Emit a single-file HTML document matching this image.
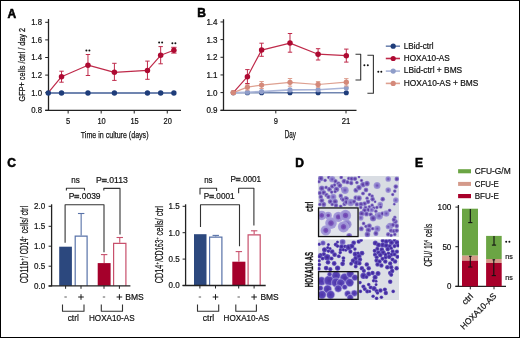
<!DOCTYPE html>
<html><head><meta charset="utf-8"><style>
html,body{margin:0;padding:0;background:#fff;}
.fig{position:relative;width:518px;height:336px;border:1px solid #000;overflow:hidden;background:#fff;}
svg{position:absolute;left:-1px;top:-1px;will-change:transform;filter:blur(0.3px);}
text{font-family:"Liberation Sans", sans-serif;}
</style></head><body><div class="fig">
<svg width="520" height="338" viewBox="0 0 520 338">
<text x="7.5" y="17.6" font-size="12" text-anchor="start" fill="#000" stroke="#000" stroke-width="0.55" font-weight="bold">A</text>
<line x1="48.5" y1="19" x2="48.5" y2="110.8" stroke="#222" stroke-width="1.3"/>
<line x1="45.2" y1="110.3" x2="181" y2="110.3" stroke="#222" stroke-width="1.3"/>
<line x1="45.2" y1="22.299999999999997" x2="48.5" y2="22.299999999999997" stroke="#222" stroke-width="1"/>
<text x="42" y="25.199999999999996" font-size="8.2" text-anchor="end" fill="#111" stroke="#111" stroke-width="0.2" textLength="10.8" lengthAdjust="spacingAndGlyphs">1.8</text>
<line x1="45.2" y1="39.89999999999999" x2="48.5" y2="39.89999999999999" stroke="#222" stroke-width="1"/>
<text x="42" y="42.79999999999999" font-size="8.2" text-anchor="end" fill="#111" stroke="#111" stroke-width="0.2" textLength="10.8" lengthAdjust="spacingAndGlyphs">1.6</text>
<line x1="45.2" y1="57.500000000000014" x2="48.5" y2="57.500000000000014" stroke="#222" stroke-width="1"/>
<text x="42" y="60.40000000000001" font-size="8.2" text-anchor="end" fill="#111" stroke="#111" stroke-width="0.2" textLength="10.8" lengthAdjust="spacingAndGlyphs">1.4</text>
<line x1="45.2" y1="75.10000000000001" x2="48.5" y2="75.10000000000001" stroke="#222" stroke-width="1"/>
<text x="42" y="78.00000000000001" font-size="8.2" text-anchor="end" fill="#111" stroke="#111" stroke-width="0.2" textLength="10.8" lengthAdjust="spacingAndGlyphs">1.2</text>
<line x1="45.2" y1="92.7" x2="48.5" y2="92.7" stroke="#222" stroke-width="1"/>
<text x="42" y="95.60000000000001" font-size="8.2" text-anchor="end" fill="#111" stroke="#111" stroke-width="0.2" textLength="10.8" lengthAdjust="spacingAndGlyphs">1.0</text>
<line x1="45.2" y1="110.3" x2="48.5" y2="110.3" stroke="#222" stroke-width="1"/>
<text x="42" y="113.2" font-size="8.2" text-anchor="end" fill="#111" stroke="#111" stroke-width="0.2" textLength="10.8" lengthAdjust="spacingAndGlyphs">0.8</text>
<line x1="68.13" y1="110.3" x2="68.13" y2="113.5" stroke="#222" stroke-width="1"/>
<text x="68.13" y="124.2" font-size="8.2" text-anchor="middle" fill="#111" stroke="#111" stroke-width="0.2" textLength="4.2" lengthAdjust="spacingAndGlyphs">5</text>
<line x1="101.18" y1="110.3" x2="101.18" y2="113.5" stroke="#222" stroke-width="1"/>
<text x="101.58000000000001" y="124.2" font-size="8.2" text-anchor="middle" fill="#111" stroke="#111" stroke-width="0.2" textLength="8.3" lengthAdjust="spacingAndGlyphs">10</text>
<line x1="134.23000000000002" y1="110.3" x2="134.23000000000002" y2="113.5" stroke="#222" stroke-width="1"/>
<text x="134.63000000000002" y="124.2" font-size="8.2" text-anchor="middle" fill="#111" stroke="#111" stroke-width="0.2" textLength="8.3" lengthAdjust="spacingAndGlyphs">15</text>
<line x1="167.28" y1="110.3" x2="167.28" y2="113.5" stroke="#222" stroke-width="1"/>
<text x="167.68" y="124.2" font-size="8.2" text-anchor="middle" fill="#111" stroke="#111" stroke-width="0.2" textLength="8.3" lengthAdjust="spacingAndGlyphs">20</text>
<text x="80.8" y="137.8" font-size="9.9" text-anchor="start" fill="#111" stroke="#111" stroke-width="0.25" textLength="67.7" lengthAdjust="spacingAndGlyphs">Time in culture (days)</text>
<text x="25.0" y="101.4" font-size="9.9" text-anchor="start" fill="#111" stroke="#111" stroke-width="0.25" textLength="73.4" lengthAdjust="spacingAndGlyphs" transform="rotate(-90 25.0 101.4)">GFP+ cells /ctrl / day 2</text>
<line x1="48.3" y1="92.95" x2="173.89" y2="92.95" stroke="#7085b0" stroke-width="1.9"/>
<polyline points="48.3,92.7 61.519999999999996,76.7 87.96000000000001,65.2 114.4,72.3 147.45,70.4 160.67000000000002,55.3 173.89,50.2" fill="none" stroke="#bf2a4a" stroke-width="1.2" stroke-linejoin="round"/>
<line x1="61.519999999999996" y1="71.2" x2="61.519999999999996" y2="82.2" stroke="#bf2a4a" stroke-width="1"/>
<line x1="59.31999999999999" y1="71.2" x2="63.72" y2="71.2" stroke="#bf2a4a" stroke-width="1"/>
<line x1="59.31999999999999" y1="82.2" x2="63.72" y2="82.2" stroke="#bf2a4a" stroke-width="1"/>
<line x1="87.96000000000001" y1="54.5" x2="87.96000000000001" y2="75.5" stroke="#bf2a4a" stroke-width="1"/>
<line x1="85.76" y1="54.5" x2="90.16000000000001" y2="54.5" stroke="#bf2a4a" stroke-width="1"/>
<line x1="85.76" y1="75.5" x2="90.16000000000001" y2="75.5" stroke="#bf2a4a" stroke-width="1"/>
<line x1="114.4" y1="63.3" x2="114.4" y2="80.4" stroke="#bf2a4a" stroke-width="1"/>
<line x1="112.2" y1="63.3" x2="116.60000000000001" y2="63.3" stroke="#bf2a4a" stroke-width="1"/>
<line x1="112.2" y1="80.4" x2="116.60000000000001" y2="80.4" stroke="#bf2a4a" stroke-width="1"/>
<line x1="147.45" y1="61.1" x2="147.45" y2="79.3" stroke="#bf2a4a" stroke-width="1"/>
<line x1="145.25" y1="61.1" x2="149.64999999999998" y2="61.1" stroke="#bf2a4a" stroke-width="1"/>
<line x1="145.25" y1="79.3" x2="149.64999999999998" y2="79.3" stroke="#bf2a4a" stroke-width="1"/>
<line x1="160.67000000000002" y1="46.6" x2="160.67000000000002" y2="63.8" stroke="#bf2a4a" stroke-width="1"/>
<line x1="158.47000000000003" y1="46.6" x2="162.87" y2="46.6" stroke="#bf2a4a" stroke-width="1"/>
<line x1="158.47000000000003" y1="63.8" x2="162.87" y2="63.8" stroke="#bf2a4a" stroke-width="1"/>
<line x1="173.89" y1="47.3" x2="173.89" y2="53.1" stroke="#bf2a4a" stroke-width="1"/>
<line x1="171.19" y1="47.3" x2="176.58999999999997" y2="47.3" stroke="#bf2a4a" stroke-width="1"/>
<line x1="171.19" y1="53.1" x2="176.58999999999997" y2="53.1" stroke="#bf2a4a" stroke-width="1"/>
<circle cx="48.3" cy="92.95" r="2.7" fill="#1f3d7a"/>
<circle cx="61.519999999999996" cy="92.95" r="2.7" fill="#1f3d7a"/>
<circle cx="87.96000000000001" cy="92.95" r="2.7" fill="#1f3d7a"/>
<circle cx="114.4" cy="92.95" r="2.7" fill="#1f3d7a"/>
<circle cx="147.45" cy="92.95" r="2.7" fill="#1f3d7a"/>
<circle cx="160.67000000000002" cy="92.95" r="2.7" fill="#1f3d7a"/>
<circle cx="173.89" cy="92.95" r="2.7" fill="#1f3d7a"/>
<circle cx="61.519999999999996" cy="76.7" r="2.75" fill="#ae0a32"/>
<circle cx="87.96000000000001" cy="65.2" r="2.75" fill="#ae0a32"/>
<circle cx="114.4" cy="72.3" r="2.75" fill="#ae0a32"/>
<circle cx="147.45" cy="70.4" r="2.75" fill="#ae0a32"/>
<circle cx="160.67000000000002" cy="55.3" r="2.75" fill="#ae0a32"/>
<circle cx="173.89" cy="50.2" r="2.75" fill="#ae0a32"/>
<circle cx="86.4" cy="50.4" r="1.0" fill="#111"/>
<circle cx="89.4" cy="50.4" r="1.0" fill="#111"/>
<circle cx="159.15" cy="42.5" r="1.0" fill="#111"/>
<circle cx="162.15" cy="42.5" r="1.0" fill="#111"/>
<circle cx="172.4" cy="43.2" r="1.0" fill="#111"/>
<circle cx="175.4" cy="43.2" r="1.0" fill="#111"/>
<text x="197.3" y="17.4" font-size="12" text-anchor="start" fill="#000" stroke="#000" stroke-width="0.55" font-weight="bold">B</text>
<line x1="223.5" y1="19.2" x2="223.5" y2="110.9" stroke="#222" stroke-width="1.3"/>
<line x1="220.5" y1="110.4" x2="356.5" y2="110.4" stroke="#222" stroke-width="1.3"/>
<line x1="220.5" y1="21.960000000000008" x2="223.5" y2="21.960000000000008" stroke="#222" stroke-width="1"/>
<text x="217.6" y="24.860000000000007" font-size="8.2" text-anchor="end" fill="#111" stroke="#111" stroke-width="0.2" textLength="11.2" lengthAdjust="spacingAndGlyphs">1.4</text>
<line x1="220.5" y1="39.61999999999999" x2="223.5" y2="39.61999999999999" stroke="#222" stroke-width="1"/>
<text x="217.6" y="42.51999999999999" font-size="8.2" text-anchor="end" fill="#111" stroke="#111" stroke-width="0.2" textLength="11.2" lengthAdjust="spacingAndGlyphs">1.3</text>
<line x1="220.5" y1="57.28" x2="223.5" y2="57.28" stroke="#222" stroke-width="1"/>
<text x="217.6" y="60.18" font-size="8.2" text-anchor="end" fill="#111" stroke="#111" stroke-width="0.2" textLength="11.2" lengthAdjust="spacingAndGlyphs">1.2</text>
<line x1="220.5" y1="74.93999999999998" x2="223.5" y2="74.93999999999998" stroke="#222" stroke-width="1"/>
<text x="217.6" y="77.83999999999999" font-size="8.2" text-anchor="end" fill="#111" stroke="#111" stroke-width="0.2" textLength="11.2" lengthAdjust="spacingAndGlyphs">1.1</text>
<line x1="220.5" y1="92.6" x2="223.5" y2="92.6" stroke="#222" stroke-width="1"/>
<text x="217.6" y="95.5" font-size="8.2" text-anchor="end" fill="#111" stroke="#111" stroke-width="0.2" textLength="11.2" lengthAdjust="spacingAndGlyphs">1.0</text>
<line x1="220.5" y1="110.25999999999999" x2="223.5" y2="110.25999999999999" stroke="#222" stroke-width="1"/>
<text x="217.6" y="113.16" font-size="8.2" text-anchor="end" fill="#111" stroke="#111" stroke-width="0.2" textLength="11.2" lengthAdjust="spacingAndGlyphs">0.9</text>
<line x1="275.8" y1="110.4" x2="275.8" y2="113.4" stroke="#222" stroke-width="1"/>
<text x="275.8" y="124" font-size="8.2" text-anchor="middle" fill="#111" stroke="#111" stroke-width="0.2" textLength="4.2" lengthAdjust="spacingAndGlyphs">9</text>
<line x1="346" y1="110.4" x2="346" y2="113.4" stroke="#222" stroke-width="1"/>
<text x="346" y="124" font-size="8.2" text-anchor="middle" fill="#111" stroke="#111" stroke-width="0.2" textLength="8.6" lengthAdjust="spacingAndGlyphs">21</text>
<text x="284.8" y="137.8" font-size="10.3" text-anchor="start" fill="#111" stroke="#111" stroke-width="0.25" textLength="11.2" lengthAdjust="spacingAndGlyphs">Day</text>
<polyline points="233.3,92.8 247.4,92.8 261.6,92.8 290,92.8 318.1,92.8 346.3,92.8" fill="none" stroke="#7085b0" stroke-width="1.6" stroke-linejoin="round"/>
<circle cx="233.3" cy="92.8" r="2.55" fill="#1f3d7a"/>
<circle cx="247.4" cy="92.8" r="2.55" fill="#1f3d7a"/>
<circle cx="261.6" cy="92.8" r="2.55" fill="#1f3d7a"/>
<circle cx="290" cy="92.8" r="2.55" fill="#1f3d7a"/>
<circle cx="318.1" cy="92.8" r="2.55" fill="#1f3d7a"/>
<circle cx="346.3" cy="92.8" r="2.55" fill="#1f3d7a"/>
<polyline points="233.3,92.6 247.4,92.2 261.6,91.6 290,89.9 318.1,89.7 346.3,88.0" fill="none" stroke="#aab5d8" stroke-width="1.6" stroke-linejoin="round"/>
<circle cx="233.3" cy="92.6" r="2.55" fill="#8f9dc9"/>
<circle cx="247.4" cy="92.2" r="2.55" fill="#8f9dc9"/>
<circle cx="261.6" cy="91.6" r="2.55" fill="#8f9dc9"/>
<circle cx="290" cy="89.9" r="2.55" fill="#8f9dc9"/>
<circle cx="318.1" cy="89.7" r="2.55" fill="#8f9dc9"/>
<circle cx="346.3" cy="88.0" r="2.55" fill="#8f9dc9"/>
<polyline points="233.3,92.6 247.4,87.1 261.6,85.1 290,82.3 318.1,84.5 346.3,82.2" fill="none" stroke="#dea090" stroke-width="1.2" stroke-linejoin="round"/>
<line x1="247.4" y1="84.2" x2="247.4" y2="90" stroke="#dea090" stroke-width="1"/>
<line x1="245.20000000000002" y1="84.2" x2="249.6" y2="84.2" stroke="#dea090" stroke-width="1"/>
<line x1="245.20000000000002" y1="90" x2="249.6" y2="90" stroke="#dea090" stroke-width="1"/>
<line x1="261.6" y1="81.5" x2="261.6" y2="88.5" stroke="#dea090" stroke-width="1"/>
<line x1="259.40000000000003" y1="81.5" x2="263.8" y2="81.5" stroke="#dea090" stroke-width="1"/>
<line x1="259.40000000000003" y1="88.5" x2="263.8" y2="88.5" stroke="#dea090" stroke-width="1"/>
<line x1="290" y1="78.5" x2="290" y2="86.2" stroke="#dea090" stroke-width="1"/>
<line x1="287.8" y1="78.5" x2="292.2" y2="78.5" stroke="#dea090" stroke-width="1"/>
<line x1="287.8" y1="86.2" x2="292.2" y2="86.2" stroke="#dea090" stroke-width="1"/>
<line x1="318.1" y1="81.6" x2="318.1" y2="87.3" stroke="#dea090" stroke-width="1"/>
<line x1="315.90000000000003" y1="81.6" x2="320.3" y2="81.6" stroke="#dea090" stroke-width="1"/>
<line x1="315.90000000000003" y1="87.3" x2="320.3" y2="87.3" stroke="#dea090" stroke-width="1"/>
<line x1="346.3" y1="78.6" x2="346.3" y2="86" stroke="#dea090" stroke-width="1"/>
<line x1="344.1" y1="78.6" x2="348.5" y2="78.6" stroke="#dea090" stroke-width="1"/>
<line x1="344.1" y1="86" x2="348.5" y2="86" stroke="#dea090" stroke-width="1"/>
<circle cx="233.3" cy="92.6" r="2.65" fill="#d4897a"/>
<circle cx="247.4" cy="87.1" r="2.65" fill="#d4897a"/>
<circle cx="261.6" cy="85.1" r="2.65" fill="#d4897a"/>
<circle cx="290" cy="82.3" r="2.65" fill="#d4897a"/>
<circle cx="318.1" cy="84.5" r="2.65" fill="#d4897a"/>
<circle cx="346.3" cy="82.2" r="2.65" fill="#d4897a"/>
<polyline points="233.3,92.6 247.4,76.7 261.6,50.1 290,43.1 318.1,54.2 346.3,55.7" fill="none" stroke="#bf2a4a" stroke-width="1.2" stroke-linejoin="round"/>
<line x1="247.4" y1="69.6" x2="247.4" y2="83.5" stroke="#bf2a4a" stroke-width="1"/>
<line x1="245.20000000000002" y1="69.6" x2="249.6" y2="69.6" stroke="#bf2a4a" stroke-width="1"/>
<line x1="245.20000000000002" y1="83.5" x2="249.6" y2="83.5" stroke="#bf2a4a" stroke-width="1"/>
<line x1="261.6" y1="43.2" x2="261.6" y2="56.3" stroke="#bf2a4a" stroke-width="1"/>
<line x1="259.40000000000003" y1="43.2" x2="263.8" y2="43.2" stroke="#bf2a4a" stroke-width="1"/>
<line x1="259.40000000000003" y1="56.3" x2="263.8" y2="56.3" stroke="#bf2a4a" stroke-width="1"/>
<line x1="290" y1="33.5" x2="290" y2="52.2" stroke="#bf2a4a" stroke-width="1"/>
<line x1="287.8" y1="33.5" x2="292.2" y2="33.5" stroke="#bf2a4a" stroke-width="1"/>
<line x1="287.8" y1="52.2" x2="292.2" y2="52.2" stroke="#bf2a4a" stroke-width="1"/>
<line x1="318.1" y1="48.7" x2="318.1" y2="60" stroke="#bf2a4a" stroke-width="1"/>
<line x1="315.90000000000003" y1="48.7" x2="320.3" y2="48.7" stroke="#bf2a4a" stroke-width="1"/>
<line x1="315.90000000000003" y1="60" x2="320.3" y2="60" stroke="#bf2a4a" stroke-width="1"/>
<line x1="346.3" y1="49.1" x2="346.3" y2="62.1" stroke="#bf2a4a" stroke-width="1"/>
<line x1="344.1" y1="49.1" x2="348.5" y2="49.1" stroke="#bf2a4a" stroke-width="1"/>
<line x1="344.1" y1="62.1" x2="348.5" y2="62.1" stroke="#bf2a4a" stroke-width="1"/>
<circle cx="247.4" cy="76.7" r="2.75" fill="#ae0a32"/>
<circle cx="261.6" cy="50.1" r="2.75" fill="#ae0a32"/>
<circle cx="290" cy="43.1" r="2.75" fill="#ae0a32"/>
<circle cx="318.1" cy="54.2" r="2.75" fill="#ae0a32"/>
<circle cx="346.3" cy="55.7" r="2.75" fill="#ae0a32"/>
<circle cx="233.3" cy="92.6" r="2.65" fill="#d4897a"/>
<polyline points="355.5,54.2 360.7,54.2 360.7,80 355.5,80" fill="none" stroke="#333" stroke-width="1.1" stroke-linejoin="round"/>
<polyline points="367.4,55.3 373.4,55.3 373.4,93.2 367.4,93.2" fill="none" stroke="#333" stroke-width="1.1" stroke-linejoin="round"/>
<circle cx="364.4" cy="65.2" r="1.0" fill="#111"/>
<circle cx="367.8" cy="65.2" r="1.0" fill="#111"/>
<circle cx="378.3" cy="71.8" r="1.0" fill="#111"/>
<circle cx="381.3" cy="71.8" r="1.0" fill="#111"/>
<line x1="385.8" y1="46.2" x2="400" y2="46.2" stroke="#7085b0" stroke-width="1.6"/>
<circle cx="393.2" cy="46.2" r="2.6" fill="#1f3d7a"/>
<text x="403.8" y="48.8" font-size="8.3" text-anchor="start" fill="#111" stroke="#111" stroke-width="0.2" textLength="29.8" lengthAdjust="spacingAndGlyphs">LBid-ctrl</text>
<line x1="385.8" y1="58.5" x2="400" y2="58.5" stroke="#bf2a4a" stroke-width="1.6"/>
<circle cx="393.2" cy="58.5" r="2.6" fill="#ae0a32"/>
<text x="403.8" y="61.0" font-size="8.3" text-anchor="start" fill="#111" stroke="#111" stroke-width="0.2" textLength="46" lengthAdjust="spacingAndGlyphs">HOXA10-AS</text>
<line x1="385.8" y1="71.1" x2="400" y2="71.1" stroke="#aab5d8" stroke-width="1.6"/>
<circle cx="393.2" cy="71.1" r="2.6" fill="#8f9dc9"/>
<text x="403.8" y="73.4" font-size="8.3" text-anchor="start" fill="#111" stroke="#111" stroke-width="0.2" textLength="58.4" lengthAdjust="spacingAndGlyphs">LBid-ctrl + BMS</text>
<line x1="385.8" y1="83.4" x2="400" y2="83.4" stroke="#dea090" stroke-width="1.6"/>
<circle cx="393.2" cy="83.4" r="2.6" fill="#d4897a"/>
<text x="403.8" y="85.8" font-size="8.3" text-anchor="start" fill="#111" stroke="#111" stroke-width="0.2" textLength="74.6" lengthAdjust="spacingAndGlyphs">HOXA10-AS + BMS</text>
<text x="7.3" y="166.9" font-size="12" text-anchor="start" fill="#000" stroke="#000" stroke-width="0.55" font-weight="bold">C</text>
<g transform="translate(28.0 283.3) rotate(-90)"><text x="0" y="0.00" font-size="10.00" font-weight="normal" fill="#111" stroke="#111" stroke-width="0.22" textLength="22.2" lengthAdjust="spacingAndGlyphs">CD11b</text></g>
<g transform="translate(28.0 260.6) rotate(-90)"><text x="0" y="-3.80" font-size="6.00" font-weight="normal" fill="#111" stroke="#111" stroke-width="0.22" textLength="2.4" lengthAdjust="spacingAndGlyphs">+</text></g>
<g transform="translate(28.0 257.8) rotate(-90)"><text x="0" y="0.00" font-size="10.00" font-weight="normal" fill="#111" stroke="#111" stroke-width="0.22" textLength="19.3" lengthAdjust="spacingAndGlyphs">/ CD14</text></g>
<g transform="translate(28.0 238.4) rotate(-90)"><text x="0" y="-3.80" font-size="6.00" font-weight="normal" fill="#111" stroke="#111" stroke-width="0.22" textLength="2.2" lengthAdjust="spacingAndGlyphs">+</text></g>
<g transform="translate(28.0 233.4) rotate(-90)"><text x="0" y="0.00" font-size="10.00" font-weight="normal" fill="#111" stroke="#111" stroke-width="0.22" textLength="27.4" lengthAdjust="spacingAndGlyphs">cells/ ctrl</text></g>
<line x1="48.6" y1="206.3" x2="51.6" y2="206.3" stroke="#222" stroke-width="1"/>
<text x="45.2" y="209.20000000000002" font-size="8.4" text-anchor="end" fill="#111" stroke="#111" stroke-width="0.2" textLength="11.2" lengthAdjust="spacingAndGlyphs">2.0</text>
<line x1="48.6" y1="226.3" x2="51.6" y2="226.3" stroke="#222" stroke-width="1"/>
<text x="45.2" y="229.20000000000002" font-size="8.4" text-anchor="end" fill="#111" stroke="#111" stroke-width="0.2" textLength="11.2" lengthAdjust="spacingAndGlyphs">1.5</text>
<line x1="48.6" y1="246.2" x2="51.6" y2="246.2" stroke="#222" stroke-width="1"/>
<text x="45.2" y="249.1" font-size="8.4" text-anchor="end" fill="#111" stroke="#111" stroke-width="0.2" textLength="11.2" lengthAdjust="spacingAndGlyphs">1.0</text>
<line x1="48.6" y1="266.2" x2="51.6" y2="266.2" stroke="#222" stroke-width="1"/>
<text x="45.2" y="269.09999999999997" font-size="8.4" text-anchor="end" fill="#111" stroke="#111" stroke-width="0.2" textLength="11.2" lengthAdjust="spacingAndGlyphs">0.5</text>
<line x1="48.6" y1="286.1" x2="51.6" y2="286.1" stroke="#222" stroke-width="1"/>
<text x="45.2" y="289.0" font-size="8.4" text-anchor="end" fill="#111" stroke="#111" stroke-width="0.2" textLength="11.2" lengthAdjust="spacingAndGlyphs">0.0</text>
<rect x="59.2" y="246.7" width="12.700000000000003" height="39.10000000000002" fill="#2c487e"/>
<polyline points="75.19999999999999,285.8 75.19999999999999,236.2 87.10000000000001,236.2 87.10000000000001,285.8" fill="none" stroke="#5872a8" stroke-width="1.2"/>
<line x1="81.15" y1="213.5" x2="81.15" y2="235.6" stroke="#5872a8" stroke-width="1.1"/>
<line x1="77.95" y1="213.5" x2="84.35000000000001" y2="213.5" stroke="#5872a8" stroke-width="1.1"/>
<rect x="97.7" y="263.1" width="12.899999999999991" height="22.69999999999999" fill="#a5002b"/>
<line x1="104.15" y1="254.6" x2="104.15" y2="263.1" stroke="#c8506c" stroke-width="1.1"/>
<line x1="100.95" y1="254.6" x2="107.35000000000001" y2="254.6" stroke="#c8506c" stroke-width="1.1"/>
<polyline points="113.6,285.8 113.6,243.4 125.9,243.4 125.9,285.8" fill="none" stroke="#c8506c" stroke-width="1.2"/>
<line x1="119.75" y1="237.5" x2="119.75" y2="242.8" stroke="#c8506c" stroke-width="1.1"/>
<line x1="116.55" y1="237.5" x2="122.95" y2="237.5" stroke="#c8506c" stroke-width="1.1"/>
<line x1="51.6" y1="204.3" x2="51.6" y2="286.3" stroke="#222" stroke-width="1.3"/>
<line x1="48.6" y1="285.8" x2="130.4" y2="285.8" stroke="#222" stroke-width="1.3"/>
<line x1="65.6" y1="285.8" x2="65.6" y2="288.8" stroke="#222" stroke-width="1"/>
<line x1="64.39999999999999" y1="297" x2="66.8" y2="297" stroke="#333" stroke-width="0.8"/>
<line x1="81" y1="285.8" x2="81" y2="288.8" stroke="#222" stroke-width="1"/>
<line x1="78.2" y1="297" x2="83.8" y2="297" stroke="#1a1a1a" stroke-width="1.0"/>
<line x1="81" y1="294.2" x2="81" y2="299.8" stroke="#1a1a1a" stroke-width="1.0"/>
<line x1="104" y1="285.8" x2="104" y2="288.8" stroke="#222" stroke-width="1"/>
<line x1="102.8" y1="297" x2="105.2" y2="297" stroke="#333" stroke-width="0.8"/>
<line x1="119.4" y1="285.8" x2="119.4" y2="288.8" stroke="#222" stroke-width="1"/>
<line x1="116.60000000000001" y1="297" x2="122.2" y2="297" stroke="#1a1a1a" stroke-width="1.0"/>
<line x1="119.4" y1="294.2" x2="119.4" y2="299.8" stroke="#1a1a1a" stroke-width="1.0"/>
<text x="125.3" y="299.8" font-size="8.8" text-anchor="start" fill="#111" stroke="#111" stroke-width="0.2" textLength="18.5" lengthAdjust="spacingAndGlyphs">BMS</text>
<polyline points="62.5,304.6 62.5,311.2 84,311.2 84,304.6" fill="none" stroke="#333" stroke-width="1.1" stroke-linejoin="round"/>
<polyline points="101.3,304.6 101.3,311.2 122.5,311.2 122.5,304.6" fill="none" stroke="#333" stroke-width="1.1" stroke-linejoin="round"/>
<text x="67.7" y="321.3" font-size="8.5" text-anchor="start" fill="#111" stroke="#111" stroke-width="0.2" textLength="11.099999999999994" lengthAdjust="spacingAndGlyphs">ctrl</text>
<text x="89" y="321.3" font-size="8.5" text-anchor="start" fill="#111" stroke="#111" stroke-width="0.2" textLength="45.599999999999994" lengthAdjust="spacingAndGlyphs">HOXA10-AS</text>
<text x="71.2" y="182.7" font-size="8.6" text-anchor="start" fill="#111" stroke="#111" stroke-width="0.2" textLength="8.5" lengthAdjust="spacingAndGlyphs">ns</text>
<polyline points="66.4,190.6 66.4,188.2 84.5,188.2 84.5,190.6" fill="none" stroke="#333" stroke-width="1.1" stroke-linejoin="round"/>
<text x="68.7" y="199" font-size="8.6" text-anchor="start" fill="#111" stroke="#111" stroke-width="0.2" textLength="31.89999999999999" lengthAdjust="spacingAndGlyphs">P<tspan fill="#3a3a3a" stroke="#3a3a3a" stroke-width="0.8">=</tspan>.0039</text>
<polyline points="65.1,242.7 65.1,204.7 104,204.7 104,252.3" fill="none" stroke="#333" stroke-width="1.1" stroke-linejoin="round"/>
<text x="96" y="182.5" font-size="8.6" text-anchor="start" fill="#111" stroke="#111" stroke-width="0.2" textLength="31.900000000000006" lengthAdjust="spacingAndGlyphs">P<tspan fill="#3a3a3a" stroke="#3a3a3a" stroke-width="0.8">=</tspan>.0113</text>
<polyline points="103.8,190.6 103.8,188.4 120,188.4 120,234.6" fill="none" stroke="#333" stroke-width="1.1" stroke-linejoin="round"/>

<g transform="translate(162.7 283.2) rotate(-90)"><text x="0" y="0.00" font-size="10.00" font-weight="normal" fill="#111" stroke="#111" stroke-width="0.22" textLength="18.4" lengthAdjust="spacingAndGlyphs">CD14</text></g>
<g transform="translate(162.7 264.6) rotate(-90)"><text x="0" y="-3.80" font-size="6.00" font-weight="normal" fill="#111" stroke="#111" stroke-width="0.22" textLength="2.4" lengthAdjust="spacingAndGlyphs">+</text></g>
<g transform="translate(162.7 261.8) rotate(-90)"><text x="0" y="0.00" font-size="10.00" font-weight="normal" fill="#111" stroke="#111" stroke-width="0.22" textLength="22.1" lengthAdjust="spacingAndGlyphs">/CD163</text></g>
<g transform="translate(162.7 239.5) rotate(-90)"><text x="0" y="-3.80" font-size="6.00" font-weight="normal" fill="#111" stroke="#111" stroke-width="0.22" textLength="2.2" lengthAdjust="spacingAndGlyphs">+</text></g>
<g transform="translate(162.7 235.6) rotate(-90)"><text x="0" y="0.00" font-size="10.00" font-weight="normal" fill="#111" stroke="#111" stroke-width="0.22" textLength="29.6" lengthAdjust="spacingAndGlyphs">cells/ ctrl</text></g>
<line x1="182.6" y1="206.3" x2="185.6" y2="206.3" stroke="#222" stroke-width="1"/>
<text x="179.7" y="209.20000000000002" font-size="8.4" text-anchor="end" fill="#111" stroke="#111" stroke-width="0.2" textLength="11.2" lengthAdjust="spacingAndGlyphs">1.5</text>
<line x1="182.6" y1="232.7" x2="185.6" y2="232.7" stroke="#222" stroke-width="1"/>
<text x="179.7" y="235.6" font-size="8.4" text-anchor="end" fill="#111" stroke="#111" stroke-width="0.2" textLength="11.2" lengthAdjust="spacingAndGlyphs">1.0</text>
<line x1="182.6" y1="259.1" x2="185.6" y2="259.1" stroke="#222" stroke-width="1"/>
<text x="179.7" y="262.0" font-size="8.4" text-anchor="end" fill="#111" stroke="#111" stroke-width="0.2" textLength="11.2" lengthAdjust="spacingAndGlyphs">0.5</text>
<line x1="182.6" y1="285.5" x2="185.6" y2="285.5" stroke="#222" stroke-width="1"/>
<text x="179.7" y="288.4" font-size="8.4" text-anchor="end" fill="#111" stroke="#111" stroke-width="0.2" textLength="11.2" lengthAdjust="spacingAndGlyphs">0.0</text>
<rect x="194" y="234.2" width="12.5" height="51.30000000000001" fill="#2c487e"/>
<polyline points="209.6,285.5 209.6,237.1 221.9,237.1 221.9,285.5" fill="none" stroke="#5872a8" stroke-width="1.2"/>
<line x1="215.75" y1="235.4" x2="215.75" y2="236.5" stroke="#5872a8" stroke-width="1.1"/>
<line x1="212.55" y1="235.4" x2="218.95" y2="235.4" stroke="#5872a8" stroke-width="1.1"/>
<rect x="232.3" y="261.7" width="13.099999999999994" height="23.80000000000001" fill="#a5002b"/>
<line x1="238.85000000000002" y1="251.6" x2="238.85000000000002" y2="261.7" stroke="#c8506c" stroke-width="1.1"/>
<line x1="235.65000000000003" y1="251.6" x2="242.05" y2="251.6" stroke="#c8506c" stroke-width="1.1"/>
<polyline points="248.1,285.5 248.1,234.79999999999998 260.2,234.79999999999998 260.2,285.5" fill="none" stroke="#c8506c" stroke-width="1.2"/>
<line x1="254.15" y1="230.8" x2="254.15" y2="234.2" stroke="#c8506c" stroke-width="1.1"/>
<line x1="250.95000000000002" y1="230.8" x2="257.35" y2="230.8" stroke="#c8506c" stroke-width="1.1"/>
<line x1="185.6" y1="204.3" x2="185.6" y2="286.0" stroke="#222" stroke-width="1.3"/>
<line x1="182.6" y1="285.5" x2="265.7" y2="285.5" stroke="#222" stroke-width="1.3"/>
<line x1="199.9" y1="285.5" x2="199.9" y2="288.5" stroke="#222" stroke-width="1"/>
<line x1="198.70000000000002" y1="297" x2="201.1" y2="297" stroke="#333" stroke-width="0.8"/>
<line x1="215.5" y1="285.5" x2="215.5" y2="288.5" stroke="#222" stroke-width="1"/>
<line x1="212.7" y1="297" x2="218.3" y2="297" stroke="#1a1a1a" stroke-width="1.0"/>
<line x1="215.5" y1="294.2" x2="215.5" y2="299.8" stroke="#1a1a1a" stroke-width="1.0"/>
<line x1="238.7" y1="285.5" x2="238.7" y2="288.5" stroke="#222" stroke-width="1"/>
<line x1="237.5" y1="297" x2="239.89999999999998" y2="297" stroke="#333" stroke-width="0.8"/>
<line x1="254.1" y1="285.5" x2="254.1" y2="288.5" stroke="#222" stroke-width="1"/>
<line x1="251.29999999999998" y1="297" x2="256.9" y2="297" stroke="#1a1a1a" stroke-width="1.0"/>
<line x1="254.1" y1="294.2" x2="254.1" y2="299.8" stroke="#1a1a1a" stroke-width="1.0"/>
<text x="260.4" y="299.8" font-size="8.8" text-anchor="start" fill="#111" stroke="#111" stroke-width="0.2" textLength="18.3" lengthAdjust="spacingAndGlyphs">BMS</text>
<polyline points="197.5,304.6 197.5,311.2 218.7,311.2 218.7,304.6" fill="none" stroke="#333" stroke-width="1.1" stroke-linejoin="round"/>
<polyline points="235.8,304.6 235.8,311.2 256.4,311.2 256.4,304.6" fill="none" stroke="#333" stroke-width="1.1" stroke-linejoin="round"/>
<text x="202.8" y="321.3" font-size="8.5" text-anchor="start" fill="#111" stroke="#111" stroke-width="0.2" textLength="11.5" lengthAdjust="spacingAndGlyphs">ctrl</text>
<text x="223.6" y="321.3" font-size="8.5" text-anchor="start" fill="#111" stroke="#111" stroke-width="0.2" textLength="45.50000000000003" lengthAdjust="spacingAndGlyphs">HOXA10-AS</text>
<text x="204.2" y="182.7" font-size="8.6" text-anchor="start" fill="#111" stroke="#111" stroke-width="0.2" textLength="8.300000000000011" lengthAdjust="spacingAndGlyphs">ns</text>
<polyline points="200,194.6 200,188.3 216.6,188.3 216.6,190.9" fill="none" stroke="#333" stroke-width="1.1" stroke-linejoin="round"/>
<text x="203.8" y="199.2" font-size="8.6" text-anchor="start" fill="#111" stroke="#111" stroke-width="0.2" textLength="30.799999999999983" lengthAdjust="spacingAndGlyphs">P<tspan fill="#3a3a3a" stroke="#3a3a3a" stroke-width="0.8">=</tspan>.0001</text>
<polyline points="200.5,226.9 200.5,204.8 239.5,204.8 239.5,246.2" fill="none" stroke="#333" stroke-width="1.1" stroke-linejoin="round"/>
<text x="230.4" y="182.3" font-size="8.6" text-anchor="start" fill="#111" stroke="#111" stroke-width="0.2" textLength="30.799999999999983" lengthAdjust="spacingAndGlyphs">P<tspan fill="#3a3a3a" stroke="#3a3a3a" stroke-width="0.8">=</tspan>.0001</text>
<polyline points="238.6,193.2 238.6,188.3 253.9,188.3 253.9,225.4" fill="none" stroke="#333" stroke-width="1.1" stroke-linejoin="round"/>

<text x="414.9" y="166.9" font-size="12" text-anchor="start" fill="#000" stroke="#000" stroke-width="0.55" font-weight="bold">E</text>
<rect x="458.1" y="169.2" width="12.9" height="4.100000000000023" fill="#6ba544"/>
<text x="474.7" y="174.2" font-size="8.5" text-anchor="start" fill="#111" stroke="#111" stroke-width="0.2" textLength="36" lengthAdjust="spacingAndGlyphs">CFU-G/M</text>
<rect x="458.1" y="181.9" width="12.9" height="4.0" fill="#d49a8a"/>
<text x="474.7" y="186.6" font-size="8.5" text-anchor="start" fill="#111" stroke="#111" stroke-width="0.2" textLength="24.1" lengthAdjust="spacingAndGlyphs">CFU-E</text>
<rect x="458.1" y="194" width="12.9" height="4.199999999999989" fill="#a8002a"/>
<text x="474.7" y="198.8" font-size="8.5" text-anchor="start" fill="#111" stroke="#111" stroke-width="0.2" textLength="24.1" lengthAdjust="spacingAndGlyphs">BFU-E</text>
<line x1="458.4" y1="205" x2="458.4" y2="286.8" stroke="#222" stroke-width="1.3"/>
<line x1="455.4" y1="286.3" x2="506" y2="286.3" stroke="#222" stroke-width="1.3"/>
<line x1="455.4" y1="207.1" x2="458.4" y2="207.1" stroke="#222" stroke-width="1"/>
<text x="451.3" y="210.0" font-size="8.2" text-anchor="end" fill="#111" stroke="#111" stroke-width="0.2" textLength="13.699999999999989" lengthAdjust="spacingAndGlyphs">100</text>
<line x1="455.4" y1="246.7" x2="458.4" y2="246.7" stroke="#222" stroke-width="1"/>
<text x="451.3" y="249.6" font-size="8.2" text-anchor="end" fill="#111" stroke="#111" stroke-width="0.2" textLength="8.900000000000034" lengthAdjust="spacingAndGlyphs">50</text>
<line x1="455.4" y1="286.3" x2="458.4" y2="286.3" stroke="#222" stroke-width="1"/>
<text x="451.3" y="289.2" font-size="8.2" text-anchor="end" fill="#111" stroke="#111" stroke-width="0.2" textLength="4.400000000000034" lengthAdjust="spacingAndGlyphs">0</text>
<rect x="462" y="208.7" width="16" height="47.0" fill="#6ba544"/>
<rect x="462" y="255.7" width="16" height="5.0" fill="#d49a8a"/>
<rect x="462" y="260.7" width="16" height="25.600000000000023" fill="#a8002a"/>
<rect x="486.1" y="235.9" width="15.6" height="23.099999999999994" fill="#6ba544"/>
<rect x="486.1" y="259" width="15.6" height="4" fill="#d49a8a"/>
<rect x="486.1" y="263" width="15.6" height="23.30000000000001" fill="#a8002a"/>
<line x1="470.3" y1="208.9" x2="470.3" y2="222.6" stroke="#111" stroke-width="1.1"/>
<line x1="468.2" y1="222.6" x2="472.4" y2="222.6" stroke="#111" stroke-width="1.1"/>
<line x1="494" y1="236" x2="494" y2="245.1" stroke="#111" stroke-width="1.1"/>
<line x1="491.9" y1="245.1" x2="496.1" y2="245.1" stroke="#111" stroke-width="1.1"/>
<line x1="470.3" y1="256" x2="470.3" y2="267" stroke="#111" stroke-width="1.1"/>
<line x1="468.2" y1="267" x2="472.4" y2="267" stroke="#111" stroke-width="1.1"/>
<line x1="469" y1="256.3" x2="471.6" y2="256.3" stroke="#111" stroke-width="1.1"/>
<line x1="493.8" y1="259.5" x2="493.8" y2="275.6" stroke="#111" stroke-width="1.1"/>
<line x1="491.7" y1="275.6" x2="495.9" y2="275.6" stroke="#111" stroke-width="1.1"/>
<line x1="492.5" y1="259.8" x2="495.1" y2="259.8" stroke="#111" stroke-width="1.1"/>
<line x1="470.3" y1="286.3" x2="470.3" y2="289.3" stroke="#222" stroke-width="1"/>
<line x1="494" y1="286.3" x2="494" y2="289.3" stroke="#222" stroke-width="1"/>
<circle cx="506.2" cy="241.8" r="1.0" fill="#111"/>
<circle cx="509.4" cy="241.8" r="1.0" fill="#111"/>
<text x="505.3" y="259.1" font-size="8.1" text-anchor="start" fill="#111" stroke="#111" stroke-width="0.2" textLength="7.6" lengthAdjust="spacingAndGlyphs">ns</text>
<text x="505.3" y="279.5" font-size="8.1" text-anchor="start" fill="#111" stroke="#111" stroke-width="0.2" textLength="7.6" lengthAdjust="spacingAndGlyphs">ns</text>
<text x="473.8" y="296.8" font-size="8.6" text-anchor="end" fill="#111" stroke="#111" stroke-width="0.2" textLength="12.1" lengthAdjust="spacingAndGlyphs" transform="rotate(-45 473.8 296.8)">ctrl</text>
<text x="497.1" y="296.5" font-size="8.6" text-anchor="end" fill="#111" stroke="#111" stroke-width="0.2" textLength="47.2" lengthAdjust="spacingAndGlyphs" transform="rotate(-45 497.1 296.5)">HOXA10-AS</text>
<g transform="translate(431.7 266.6) rotate(-90)"><text x="0" y="0.00" font-size="10.00" font-weight="normal" fill="#111" stroke="#111" stroke-width="0.22" textLength="15.7" lengthAdjust="spacingAndGlyphs">CFU/</text></g>
<g transform="translate(431.7 248.7) rotate(-90)"><text x="0" y="0.00" font-size="10.00" font-weight="normal" fill="#111" stroke="#111" stroke-width="0.22" textLength="6.2" lengthAdjust="spacingAndGlyphs">10</text></g>
<g transform="translate(431.7 241.9) rotate(-90)"><text x="0" y="-3.80" font-size="6.00" font-weight="normal" fill="#111" stroke="#111" stroke-width="0.22" textLength="1.9" lengthAdjust="spacingAndGlyphs">4</text></g>
<g transform="translate(431.7 237.1) rotate(-90)"><text x="0" y="0.00" font-size="10.00" font-weight="normal" fill="#111" stroke="#111" stroke-width="0.22" textLength="13.4" lengthAdjust="spacingAndGlyphs">cells</text></g>
<text x="295.3" y="166.7" font-size="12" text-anchor="start" fill="#000" stroke="#000" stroke-width="0.55" font-weight="bold">D</text>
<text x="313.2" y="212.0" font-size="10" text-anchor="start" fill="#111" stroke="#111" stroke-width="0.25" font-weight="bold" textLength="10.5" lengthAdjust="spacingAndGlyphs" transform="rotate(-90 313.2 212.0)">ctrl</text>
<text x="313.3" y="287.2" font-size="10" text-anchor="start" fill="#111" stroke="#111" stroke-width="0.25" font-weight="bold" textLength="35.3" lengthAdjust="spacingAndGlyphs" transform="rotate(-90 313.3 287.2)">HOXA10-AS</text>
<defs><radialGradient id="cg1"><stop offset="0" stop-color="#55309a"/><stop offset="0.4" stop-color="#6a50b2"/><stop offset="0.78" stop-color="#8878c8"/><stop offset="1" stop-color="#a098d4"/></radialGradient><radialGradient id="cg1b"><stop offset="0" stop-color="#6a48b2"/><stop offset="0.5" stop-color="#8a7ccc"/><stop offset="1" stop-color="#a79fd8"/></radialGradient><radialGradient id="cg2b"><stop offset="0" stop-color="#5a40b0"/><stop offset="0.6" stop-color="#7060c0"/><stop offset="1" stop-color="#8c80d0"/></radialGradient><radialGradient id="cg2"><stop offset="0" stop-color="#3e2294"/><stop offset="0.55" stop-color="#4e38ac"/><stop offset="1" stop-color="#6c5cc0"/></radialGradient><radialGradient id="ci1"><stop offset="0" stop-color="#6a3cae"/><stop offset="0.4" stop-color="#7a58bc"/><stop offset="0.55" stop-color="#9c90d4"/><stop offset="1" stop-color="#aaa2dc"/></radialGradient><radialGradient id="ci2"><stop offset="0" stop-color="#4c32a6"/><stop offset="0.7" stop-color="#5a46b8"/><stop offset="1" stop-color="#7464c4"/></radialGradient></defs>
<clipPath id="m1"><rect x="317.8" y="175.9" width="81.3" height="61.3"/></clipPath>
<g clip-path="url(#m1)">
<rect x="317.8" y="175.9" width="81.3" height="61.3" fill="#d9dde3"/>
<circle cx="320.8" cy="178.4" r="2.84" fill="url(#cg1)"/>
<circle cx="319.0" cy="181.7" r="1.89" fill="url(#cg1)"/>
<circle cx="325.1" cy="180.3" r="1.89" fill="url(#cg1)"/>
<circle cx="328.9" cy="177.4" r="1.89" fill="url(#cg1)"/>
<circle cx="332.2" cy="179.3" r="3.24" fill="url(#cg1b)"/>
<circle cx="335.5" cy="181.2" r="2.29" fill="url(#cg1)"/>
<circle cx="338.4" cy="183.6" r="2.29" fill="url(#cg1)"/>
<circle cx="341.2" cy="177.4" r="1.89" fill="url(#cg1)"/>
<circle cx="344.1" cy="181.2" r="2.56" fill="url(#cg1)"/>
<circle cx="347.4" cy="182.2" r="2.29" fill="url(#cg1)"/>
<circle cx="348.8" cy="178.4" r="1.89" fill="url(#cg1)"/>
<circle cx="351.6" cy="178.8" r="2.29" fill="url(#cg1)"/>
<circle cx="355.0" cy="178.8" r="2.29" fill="url(#cg1)"/>
<circle cx="356.9" cy="182.6" r="1.89" fill="url(#cg1)"/>
<circle cx="351.2" cy="183.1" r="2.29" fill="url(#cg1)"/>
<circle cx="321.8" cy="188.3" r="2.84" fill="url(#cg1)"/>
<circle cx="326.1" cy="187.4" r="1.89" fill="url(#cg1)"/>
<circle cx="329.4" cy="189.3" r="2.56" fill="url(#cg1)"/>
<circle cx="332.2" cy="186.4" r="2.29" fill="url(#cg1)"/>
<circle cx="334.6" cy="185.0" r="1.89" fill="url(#cg1)"/>
<circle cx="336.5" cy="189.3" r="2.84" fill="url(#cg1)"/>
<circle cx="339.8" cy="185.5" r="2.56" fill="url(#cg1)"/>
<circle cx="342.6" cy="188.8" r="1.89" fill="url(#cg1)"/>
<circle cx="345.0" cy="190.2" r="3.78" fill="url(#cg1b)"/>
<circle cx="335.1" cy="191.6" r="1.89" fill="url(#cg1)"/>
<circle cx="331.7" cy="192.1" r="1.89" fill="url(#cg1)"/>
<circle cx="355.9" cy="190.2" r="2.56" fill="url(#cg1)"/>
<circle cx="319.9" cy="193.1" r="2.29" fill="url(#cg1)"/>
<circle cx="323.7" cy="192.6" r="2.56" fill="url(#cg1)"/>
<circle cx="326.5" cy="195.0" r="2.29" fill="url(#cg1)"/>
<circle cx="320.8" cy="196.9" r="2.29" fill="url(#cg1)"/>
<circle cx="328.4" cy="196.9" r="2.29" fill="url(#cg1)"/>
<circle cx="333.2" cy="196.9" r="3.24" fill="url(#cg1b)"/>
<circle cx="340.7" cy="195.9" r="2.29" fill="url(#cg1)"/>
<circle cx="341.7" cy="198.7" r="1.89" fill="url(#cg1)"/>
<circle cx="345.5" cy="197.8" r="1.89" fill="url(#cg1)"/>
<circle cx="355.9" cy="197.8" r="2.56" fill="url(#cg1)"/>
<circle cx="321.8" cy="200.6" r="2.56" fill="url(#cg1)"/>
<circle cx="319.9" cy="204.4" r="1.89" fill="url(#cg1)"/>
<circle cx="323.7" cy="204.4" r="2.56" fill="url(#cg1)"/>
<circle cx="330.3" cy="201.6" r="2.56" fill="url(#cg1)"/>
<circle cx="335.1" cy="201.6" r="2.84" fill="url(#cg1)"/>
<circle cx="332.2" cy="204.4" r="1.89" fill="url(#cg1)"/>
<circle cx="336.0" cy="205.4" r="2.29" fill="url(#cg1)"/>
<circle cx="343.1" cy="199.7" r="2.29" fill="url(#cg1)"/>
<circle cx="346.4" cy="198.7" r="2.56" fill="url(#cg1)"/>
<circle cx="344.5" cy="204.0" r="2.29" fill="url(#cg1)"/>
<circle cx="346.4" cy="202.1" r="2.56" fill="url(#cg1)"/>
<circle cx="350.7" cy="202.5" r="3.65" fill="url(#cg1b)"/>
<circle cx="354.0" cy="201.6" r="2.29" fill="url(#cg1)"/>
<circle cx="356.9" cy="204.4" r="2.29" fill="url(#cg1)"/>
<circle cx="340.7" cy="206.3" r="1.89" fill="url(#cg1)"/>
<circle cx="359.0" cy="177.0" r="1.49" fill="url(#cg1)"/>
<circle cx="363.0" cy="184.6" r="2.84" fill="url(#cg1)"/>
<circle cx="367.0" cy="183.6" r="2.84" fill="url(#cg1)"/>
<circle cx="359.0" cy="187.6" r="2.84" fill="url(#cg1)"/>
<circle cx="366.0" cy="190.0" r="2.43" fill="url(#cg1)"/>
<circle cx="377.1" cy="185.6" r="3.51" fill="url(#cg1b)"/>
<circle cx="388.2" cy="179.0" r="2.84" fill="url(#cg1b)"/>
<circle cx="396.8" cy="179.0" r="2.43" fill="url(#cg1)"/>
<circle cx="388.2" cy="190.1" r="2.84" fill="url(#cg1b)"/>
<circle cx="395.8" cy="186.6" r="2.43" fill="url(#cg1)"/>
<circle cx="394.8" cy="191.1" r="1.89" fill="url(#cg1)"/>
<circle cx="392.7" cy="194.6" r="1.76" fill="url(#cg1)"/>
<circle cx="395.8" cy="200.2" r="2.84" fill="url(#cg1b)"/>
<circle cx="394.3" cy="204.2" r="1.49" fill="url(#cg1)"/>
<circle cx="382.7" cy="199.2" r="2.43" fill="url(#cg1)"/>
<circle cx="380.2" cy="204.7" r="2.84" fill="url(#cg1b)"/>
<circle cx="369.6" cy="194.6" r="1.89" fill="url(#cg1)"/>
<circle cx="372.1" cy="196.1" r="1.89" fill="url(#cg1)"/>
<circle cx="367.1" cy="198.2" r="1.89" fill="url(#cg1)"/>
<circle cx="372.6" cy="199.2" r="2.43" fill="url(#cg1)"/>
<circle cx="375.1" cy="201.7" r="1.49" fill="url(#cg1)"/>
<circle cx="368.0" cy="201.7" r="2.43" fill="url(#cg1)"/>
<circle cx="364.6" cy="203.7" r="2.43" fill="url(#cg1)"/>
<circle cx="361.0" cy="204.2" r="2.43" fill="url(#cg1)"/>
<circle cx="359.0" cy="198.2" r="2.84" fill="url(#cg1)"/>
<circle cx="372.1" cy="205.2" r="1.89" fill="url(#cg1)"/>
<circle cx="363.0" cy="193.5" r="2.03" fill="url(#cg1)"/>
<circle cx="361.5" cy="180.5" r="1.76" fill="url(#cg1)"/>
<circle cx="360.8" cy="207.4" r="1.89" fill="url(#cg1)"/>
<circle cx="365.5" cy="207.9" r="2.29" fill="url(#cg1)"/>
<circle cx="369.3" cy="206.9" r="1.89" fill="url(#cg1)"/>
<circle cx="373.6" cy="207.9" r="1.89" fill="url(#cg1)"/>
<circle cx="376.9" cy="207.4" r="1.89" fill="url(#cg1)"/>
<circle cx="380.7" cy="206.9" r="1.89" fill="url(#cg1)"/>
<circle cx="364.6" cy="210.3" r="2.56" fill="url(#cg1)"/>
<circle cx="368.4" cy="209.8" r="2.29" fill="url(#cg1)"/>
<circle cx="371.7" cy="209.8" r="2.56" fill="url(#cg1b)"/>
<circle cx="375.9" cy="211.2" r="1.89" fill="url(#cg1)"/>
<circle cx="361.7" cy="213.6" r="2.84" fill="url(#cg1)"/>
<circle cx="366.5" cy="214.0" r="2.56" fill="url(#cg1)"/>
<circle cx="370.7" cy="214.5" r="2.29" fill="url(#cg1)"/>
<circle cx="376.9" cy="215.0" r="2.29" fill="url(#cg1)"/>
<circle cx="379.2" cy="215.9" r="3.78" fill="url(#cg1b)"/>
<circle cx="382.5" cy="213.6" r="2.29" fill="url(#cg1)"/>
<circle cx="386.3" cy="213.6" r="3.24" fill="url(#cg1b)"/>
<circle cx="389.6" cy="210.3" r="1.89" fill="url(#cg1)"/>
<circle cx="360.8" cy="217.8" r="2.84" fill="url(#cg1b)"/>
<circle cx="373.1" cy="218.3" r="3.24" fill="url(#cg1)"/>
<circle cx="394.8" cy="217.4" r="1.89" fill="url(#cg1)"/>
<circle cx="395.3" cy="221.6" r="2.56" fill="url(#cg1)"/>
<circle cx="393.9" cy="219.7" r="2.29" fill="url(#cg1)"/>
<circle cx="363.6" cy="223.5" r="1.89" fill="url(#cg1)"/>
<circle cx="366.0" cy="226.3" r="1.89" fill="url(#cg1)"/>
<circle cx="369.3" cy="225.9" r="2.56" fill="url(#cg1)"/>
<circle cx="372.6" cy="228.7" r="1.89" fill="url(#cg1)"/>
<circle cx="361.3" cy="228.7" r="2.56" fill="url(#cg1)"/>
<circle cx="368.4" cy="230.1" r="2.84" fill="url(#cg1)"/>
<circle cx="377.3" cy="228.7" r="3.24" fill="url(#cg1b)"/>
<circle cx="375.9" cy="233.4" r="2.56" fill="url(#cg1)"/>
<circle cx="367.4" cy="234.4" r="2.84" fill="url(#cg1)"/>
<circle cx="390.1" cy="225.9" r="3.24" fill="url(#cg1b)"/>
<circle cx="393.0" cy="224.9" r="2.29" fill="url(#cg1)"/>
<circle cx="396.7" cy="225.9" r="2.29" fill="url(#cg1)"/>
<circle cx="391.1" cy="230.6" r="2.29" fill="url(#cg1)"/>
<circle cx="393.9" cy="231.1" r="2.29" fill="url(#cg1)"/>
<circle cx="396.7" cy="230.6" r="2.29" fill="url(#cg1)"/>
<circle cx="388.2" cy="234.4" r="2.29" fill="url(#cg1)"/>
<circle cx="391.1" cy="235.3" r="1.89" fill="url(#cg1)"/>
<circle cx="394.8" cy="234.4" r="1.89" fill="url(#cg1)"/>
<circle cx="388.2" cy="226.8" r="2.56" fill="url(#cg1b)"/>
<rect x="317.9" y="207.3" width="40.80000000000001" height="29.899999999999977" fill="#e2e4ec"/>
<clipPath id="m1i"><rect x="317.9" y="207.3" width="40.80000000000001" height="29.899999999999977"/></clipPath><g clip-path="url(#m1i)">
<circle cx="321.7" cy="215.4" r="4.75" fill="url(#ci1)"/>
<circle cx="328.2" cy="215.4" r="3.67" fill="url(#ci1)"/>
<circle cx="338.3" cy="216.9" r="5.18" fill="url(#ci1)"/>
<circle cx="345.5" cy="215.4" r="5.62" fill="url(#ci1)"/>
<circle cx="331" cy="223.1" r="5.83" fill="url(#ci1)"/>
<circle cx="347.1" cy="224.2" r="4.54" fill="url(#cg1b)"/>
<circle cx="343.5" cy="226.8" r="5.62" fill="url(#ci1)"/>
<circle cx="325.8" cy="230.4" r="5.18" fill="url(#ci1)"/>
<circle cx="349.2" cy="236.0" r="3.02" fill="url(#cg1)"/>
</g>
</g>
<rect x="318.54999999999995" y="207.95000000000002" width="39.500000000000014" height="28.599999999999977" fill="none" stroke="#111" stroke-width="1.3"/>
<clipPath id="m2"><rect x="317.8" y="239.2" width="81.3" height="60.9"/></clipPath>
<g clip-path="url(#m2)">
<rect x="317.8" y="239.2" width="81.3" height="60.9" fill="#dcdfe5"/>
<circle cx="319.2" cy="244.3" r="1.68" fill="url(#cg2)"/>
<circle cx="323.0" cy="243.1" r="2.52" fill="url(#cg2b)"/>
<circle cx="328.4" cy="244.6" r="1.54" fill="url(#cg2)"/>
<circle cx="324.5" cy="249.7" r="2.52" fill="url(#cg2)"/>
<circle cx="327.8" cy="247.6" r="1.68" fill="url(#cg2)"/>
<circle cx="330.1" cy="248.5" r="1.54" fill="url(#cg2)"/>
<circle cx="328.4" cy="251.1" r="1.82" fill="url(#cg2)"/>
<circle cx="332.2" cy="251.7" r="2.38" fill="url(#cg2)"/>
<circle cx="334.6" cy="254.7" r="2.38" fill="url(#cg2)"/>
<circle cx="323.9" cy="254.1" r="2.10" fill="url(#cg2)"/>
<circle cx="342.6" cy="242.0" r="2.94" fill="url(#cg2b)"/>
<circle cx="337.5" cy="242.0" r="1.54" fill="url(#cg2)"/>
<circle cx="335.8" cy="244.6" r="2.10" fill="url(#cg2)"/>
<circle cx="337.5" cy="246.1" r="1.82" fill="url(#cg2)"/>
<circle cx="341.4" cy="246.7" r="2.38" fill="url(#cg2)"/>
<circle cx="344.9" cy="246.4" r="1.82" fill="url(#cg2)"/>
<circle cx="347.0" cy="247.3" r="1.68" fill="url(#cg2)"/>
<circle cx="340.5" cy="249.9" r="1.82" fill="url(#cg2)"/>
<circle cx="343.4" cy="249.7" r="1.82" fill="url(#cg2)"/>
<circle cx="345.8" cy="250.2" r="1.54" fill="url(#cg2)"/>
<circle cx="340.2" cy="252.6" r="1.82" fill="url(#cg2)"/>
<circle cx="320.4" cy="255.3" r="2.38" fill="url(#cg2)"/>
<circle cx="319.5" cy="256.5" r="2.10" fill="url(#cg2)"/>
<circle cx="322.6" cy="258.5" r="1.96" fill="url(#cg2)"/>
<circle cx="319.2" cy="260.8" r="1.68" fill="url(#cg2)"/>
<circle cx="327.2" cy="257.3" r="3.22" fill="url(#cg2)"/>
<circle cx="331.5" cy="258.5" r="2.10" fill="url(#cg2)"/>
<circle cx="328.0" cy="262.3" r="2.38" fill="url(#cg2)"/>
<circle cx="338.8" cy="256.2" r="1.96" fill="url(#cg2)"/>
<circle cx="343.4" cy="258.1" r="1.96" fill="url(#cg2)"/>
<circle cx="343.4" cy="260.8" r="1.68" fill="url(#cg2)"/>
<circle cx="342.6" cy="263.8" r="2.38" fill="url(#cg2)"/>
<circle cx="353.4" cy="260.8" r="2.66" fill="url(#cg2)"/>
<circle cx="355.7" cy="258.1" r="2.38" fill="url(#cg2)"/>
<circle cx="356.5" cy="262.7" r="2.66" fill="url(#cg2)"/>
<circle cx="319.2" cy="264.6" r="1.96" fill="url(#cg2)"/>
<circle cx="318.8" cy="268.8" r="1.96" fill="url(#cg2)"/>
<circle cx="326.1" cy="268.1" r="2.38" fill="url(#cg2)"/>
<circle cx="330.3" cy="269.2" r="2.10" fill="url(#cg2)"/>
<circle cx="334.2" cy="263.5" r="2.38" fill="url(#cg2)"/>
<circle cx="337.6" cy="268.1" r="2.66" fill="url(#cg2)"/>
<circle cx="351.1" cy="263.8" r="1.96" fill="url(#cg2)"/>
<circle cx="355.7" cy="266.5" r="1.96" fill="url(#cg2)"/>
<circle cx="353.7" cy="242.8" r="2.38" fill="url(#cg2)"/>
<circle cx="358.7" cy="241.7" r="2.10" fill="url(#cg2)"/>
<circle cx="361.1" cy="240.2" r="1.82" fill="url(#cg2)"/>
<circle cx="348.7" cy="247.3" r="3.08" fill="url(#cg2)"/>
<circle cx="351.9" cy="246.1" r="2.52" fill="url(#cg2)"/>
<circle cx="354.9" cy="249.1" r="1.82" fill="url(#cg2)"/>
<circle cx="350.4" cy="251.7" r="2.10" fill="url(#cg2)"/>
<circle cx="355.2" cy="254.1" r="2.52" fill="url(#cg2)"/>
<circle cx="358.1" cy="253.2" r="1.82" fill="url(#cg2)"/>
<circle cx="362.0" cy="253.2" r="2.38" fill="url(#cg2)"/>
<circle cx="359.0" cy="256.2" r="2.52" fill="url(#cg2)"/>
<circle cx="375.3" cy="243.1" r="2.52" fill="url(#cg2)"/>
<circle cx="378.5" cy="244.9" r="2.52" fill="url(#cg2)"/>
<circle cx="382.7" cy="240.8" r="2.10" fill="url(#cg2)"/>
<circle cx="382.7" cy="244.9" r="2.52" fill="url(#cg2)"/>
<circle cx="386.2" cy="241.4" r="2.38" fill="url(#cg2)"/>
<circle cx="386.2" cy="245.5" r="2.52" fill="url(#cg2)"/>
<circle cx="389.8" cy="240.8" r="2.10" fill="url(#cg2)"/>
<circle cx="391.5" cy="242.6" r="2.52" fill="url(#cg2)"/>
<circle cx="394.5" cy="240.2" r="1.82" fill="url(#cg2)"/>
<circle cx="396.9" cy="242.6" r="2.52" fill="url(#cg2)"/>
<circle cx="398.0" cy="245.5" r="2.10" fill="url(#cg2)"/>
<circle cx="394.5" cy="246.1" r="2.10" fill="url(#cg2)"/>
<circle cx="389.8" cy="246.1" r="2.10" fill="url(#cg2)"/>
<circle cx="377.3" cy="248.8" r="2.10" fill="url(#cg2)"/>
<circle cx="381.8" cy="249.7" r="2.38" fill="url(#cg2)"/>
<circle cx="387.7" cy="249.1" r="2.38" fill="url(#cg2)"/>
<circle cx="391.2" cy="248.2" r="1.82" fill="url(#cg2)"/>
<circle cx="374.7" cy="250.8" r="2.10" fill="url(#cg2)"/>
<circle cx="378.5" cy="252.6" r="2.38" fill="url(#cg2)"/>
<circle cx="383.2" cy="252.6" r="2.52" fill="url(#cg2)"/>
<circle cx="392.7" cy="251.4" r="2.10" fill="url(#cg2)"/>
<circle cx="396.9" cy="251.7" r="2.10" fill="url(#cg2)"/>
<circle cx="375.0" cy="254.7" r="2.10" fill="url(#cg2)"/>
<circle cx="380.3" cy="255.0" r="2.38" fill="url(#cg2)"/>
<circle cx="391.5" cy="254.7" r="2.10" fill="url(#cg2)"/>
<circle cx="394.5" cy="254.4" r="2.10" fill="url(#cg2)"/>
<circle cx="397.4" cy="256.8" r="2.10" fill="url(#cg2)"/>
<circle cx="376.7" cy="257.3" r="2.10" fill="url(#cg2)"/>
<circle cx="385.6" cy="257.3" r="2.10" fill="url(#cg2)"/>
<circle cx="389.2" cy="256.8" r="2.38" fill="url(#cg2)"/>
<circle cx="385.5" cy="254.5" r="1.96" fill="url(#cg2)"/>
<circle cx="388.5" cy="253.3" r="1.82" fill="url(#cg2)"/>
<circle cx="360.0" cy="259.5" r="2.24" fill="url(#cg2)"/>
<circle cx="359.0" cy="262.4" r="2.10" fill="url(#cg2)"/>
<circle cx="376.6" cy="260.5" r="2.24" fill="url(#cg2)"/>
<circle cx="379.5" cy="261.5" r="2.24" fill="url(#cg2)"/>
<circle cx="385.3" cy="261.5" r="2.24" fill="url(#cg2)"/>
<circle cx="395.1" cy="261.5" r="2.24" fill="url(#cg2)"/>
<circle cx="359.5" cy="263.4" r="2.10" fill="url(#cg2)"/>
<circle cx="366.8" cy="264.4" r="2.24" fill="url(#cg2)"/>
<circle cx="361.9" cy="268.3" r="2.24" fill="url(#cg2)"/>
<circle cx="368.7" cy="268.3" r="2.24" fill="url(#cg2)"/>
<circle cx="377.5" cy="264.4" r="2.24" fill="url(#cg2)"/>
<circle cx="381.4" cy="265.4" r="2.24" fill="url(#cg2)"/>
<circle cx="387.3" cy="267.3" r="2.24" fill="url(#cg2)"/>
<circle cx="391.2" cy="267.3" r="2.24" fill="url(#cg2)"/>
<circle cx="396.6" cy="268.3" r="2.24" fill="url(#cg2)"/>
<circle cx="390.2" cy="263.4" r="2.24" fill="url(#cg2)"/>
<circle cx="382.5" cy="258.8" r="2.10" fill="url(#cg2)"/>
<circle cx="392.5" cy="259.5" r="2.10" fill="url(#cg2)"/>
<circle cx="363.4" cy="275.8" r="3.08" fill="url(#cg2)"/>
<circle cx="363.9" cy="270.9" r="2.10" fill="url(#cg2)"/>
<circle cx="368.7" cy="273.9" r="2.52" fill="url(#cg2)"/>
<circle cx="372.6" cy="272.9" r="2.24" fill="url(#cg2)"/>
<circle cx="375.1" cy="277.3" r="2.52" fill="url(#cg2)"/>
<circle cx="378.0" cy="273.4" r="2.52" fill="url(#cg2)"/>
<circle cx="390.2" cy="272.9" r="2.24" fill="url(#cg2)"/>
<circle cx="392.2" cy="270.9" r="2.24" fill="url(#cg2)"/>
<circle cx="391.2" cy="274.8" r="2.10" fill="url(#cg2)"/>
<circle cx="360.0" cy="282.6" r="1.82" fill="url(#cg2)"/>
<circle cx="373.6" cy="280.7" r="1.82" fill="url(#cg2)"/>
<circle cx="376.1" cy="281.2" r="1.54" fill="url(#cg2)"/>
<circle cx="376.1" cy="284.6" r="1.54" fill="url(#cg2)"/>
<circle cx="390.2" cy="281.7" r="2.24" fill="url(#cg2)"/>
<circle cx="363.4" cy="286.6" r="2.10" fill="url(#cg2)"/>
<circle cx="364.8" cy="289.0" r="2.10" fill="url(#cg2)"/>
<circle cx="367.3" cy="291.4" r="2.10" fill="url(#cg2)"/>
<circle cx="368.7" cy="284.6" r="1.82" fill="url(#cg2)"/>
<circle cx="360.4" cy="291.4" r="1.82" fill="url(#cg2)"/>
<circle cx="370.7" cy="287.5" r="2.10" fill="url(#cg2)"/>
<circle cx="374.1" cy="288.5" r="2.52" fill="url(#cg2)"/>
<circle cx="376.6" cy="291.0" r="2.10" fill="url(#cg2)"/>
<circle cx="377.5" cy="292.9" r="1.82" fill="url(#cg2)"/>
<circle cx="380.5" cy="290.5" r="2.24" fill="url(#cg2)"/>
<circle cx="384.9" cy="289.5" r="2.10" fill="url(#cg2)"/>
<circle cx="385.8" cy="292.9" r="2.24" fill="url(#cg2)"/>
<circle cx="393.2" cy="291.4" r="1.82" fill="url(#cg2)"/>
<circle cx="373.1" cy="296.3" r="1.82" fill="url(#cg2)"/>
<circle cx="376.6" cy="298.3" r="1.82" fill="url(#cg2)"/>
<circle cx="381.4" cy="297.3" r="1.82" fill="url(#cg2)"/>
<circle cx="369.7" cy="291.4" r="1.54" fill="url(#cg2)"/>
<circle cx="366.5" cy="277.0" r="1.96" fill="url(#cg2)"/>
<rect x="317.9" y="271.0" width="40.80000000000001" height="29.0" fill="#e2e4ec"/>
<clipPath id="m2i"><rect x="317.9" y="271.0" width="40.80000000000001" height="29.0"/></clipPath><g clip-path="url(#m2i)">
<circle cx="321.5" cy="281.1" r="4.4" fill="url(#ci2)" stroke="#c4bee6" stroke-width="0.45"/>
<circle cx="329.1" cy="280.6" r="5.2" fill="url(#ci2)" stroke="#c4bee6" stroke-width="0.45"/>
<circle cx="336.1" cy="275.6" r="4.4" fill="url(#ci2)" stroke="#c4bee6" stroke-width="0.45"/>
<circle cx="344.7" cy="278.1" r="4.8" fill="url(#ci2)" stroke="#c4bee6" stroke-width="0.45"/>
<circle cx="350.2" cy="274" r="3.8" fill="url(#ci2)" stroke="#c4bee6" stroke-width="0.45"/>
<circle cx="336.1" cy="282.6" r="4.7" fill="url(#ci2)" stroke="#c4bee6" stroke-width="0.45"/>
<circle cx="340.7" cy="283.1" r="4.2" fill="url(#ci2)" stroke="#c4bee6" stroke-width="0.45"/>
<circle cx="349.7" cy="282.6" r="4.2" fill="url(#ci2)" stroke="#c4bee6" stroke-width="0.45"/>
<circle cx="354.8" cy="277.6" r="3.2" fill="url(#ci2)" stroke="#c4bee6" stroke-width="0.45"/>
<circle cx="327.6" cy="289.1" r="4.2" fill="url(#ci2)" stroke="#c4bee6" stroke-width="0.45"/>
<circle cx="338.2" cy="288.6" r="3.7" fill="url(#ci2)" stroke="#c4bee6" stroke-width="0.45"/>
<circle cx="344.7" cy="287.1" r="2.7" fill="url(#ci2)" stroke="#c4bee6" stroke-width="0.45"/>
<circle cx="330.6" cy="294.7" r="4.2" fill="url(#ci2)" stroke="#c4bee6" stroke-width="0.45"/>
<circle cx="322" cy="294.7" r="4.2" fill="url(#ci2)" stroke="#c4bee6" stroke-width="0.45"/>
<circle cx="347.7" cy="293.7" r="3.2" fill="url(#ci2)" stroke="#c4bee6" stroke-width="0.45"/>
<circle cx="354.3" cy="293.2" r="3.2" fill="url(#ci2)" stroke="#c4bee6" stroke-width="0.45"/>
<circle cx="350.2" cy="297.5" r="3.2" fill="url(#ci2)" stroke="#c4bee6" stroke-width="0.45"/>
<circle cx="320.5" cy="288.1" r="2.7" fill="url(#ci2)" stroke="#c4bee6" stroke-width="0.45"/>
<circle cx="329.6" cy="274.2" r="2.4" fill="url(#ci2)" stroke="#c4bee6" stroke-width="0.45"/>
</g>
</g>
<rect x="318.54999999999995" y="271.65" width="39.500000000000014" height="27.7" fill="none" stroke="#111" stroke-width="1.3"/>
</svg></div></body></html>
